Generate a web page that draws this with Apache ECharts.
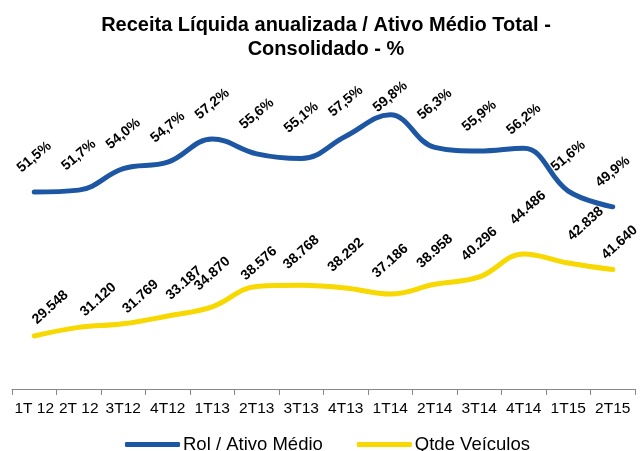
<!DOCTYPE html>
<html>
<head>
<meta charset="utf-8">
<script src="https://cdn.jsdelivr.net/npm/echarts@6/dist/echarts.min.js"></script>
<style>html,body{margin:0;padding:0;background:#fff}#c{width:641px;height:451px}</style>
</head>
<body>
<div id="c"></div>
<script>
var categories = ['1T 12','2T 12','3T12','4T12','1T13','2T13','3T13','4T13','1T14','2T14','3T14','4T14','1T15','2T15'];
var rolAtivo = [51.5, 51.7, 54.0, 54.7, 57.2, 55.6, 55.1, 57.5, 59.8, 56.3, 55.9, 56.2, 51.6, 49.9];
var qtdeVeiculos = [29548, 31120, 31769, 33187, 34870, 38576, 38768, 38292, 37186, 38958, 40296, 44486, 42838, 41640];
var seriesNames = ['Rol / Ativo Médio', 'Qtde Veículos'];
var titleText = 'Receita Líquida anualizada / Ativo Médio Total -\nConsolidado - %';

// label placement tweaks (layout only; offsets are in the rotated label frame)
var blueLabelDist = { 5: 40, 6: 41, 8: 18, 9: 43, 11: 29 };
var yellowLabelOffset = { 0: [9, 14], 1: [11, 17], 2: [9, 16], 3: [12, 11], 5: [-5, 9], 11: [12, -7], 12: [17, 7], 13: [1, 9] };

var chart = echarts.init(document.getElementById('c'));
var font = 'Arial, "Liberation Sans", sans-serif';

var blueData = rolAtivo.map(function (v, i) {
  return blueLabelDist[i] !== undefined ? { value: v, label: { distance: blueLabelDist[i] } } : v;
});
var yellowData = qtdeVeiculos.map(function (v, i) {
  return yellowLabelOffset[i] ? { value: v, label: { offset: yellowLabelOffset[i] } } : v;
});

chart.setOption({
  animation: false,
  title: {
    text: titleText,
    left: 321, top: 8, textAlign: 'center',
    textStyle: { fontFamily: font, fontSize: 20, fontWeight: 'bold', color: '#000', lineHeight: 24 }
  },
  legend: {
    top: 430, left: 120,
    itemWidth: 55, itemHeight: 5, itemGap: 34,
    icon: 'roundRect',
    textStyle: { fontFamily: font, fontSize: 18.5, color: '#000', padding: [0, 0, 0, -2] },
    data: seriesNames
  },
  grid: { left: 12, right: 6, top: 60, bottom: 62 },
  xAxis: {
    type: 'category', data: categories, boundaryGap: true,
    axisLine: { lineStyle: { color: '#888' } },
    axisTick: { show: true, length: 6, lineStyle: { color: '#888' } },
    axisLabel: { fontFamily: font, fontSize: 15.5, color: '#000', margin: 12, interval: 0 }
  },
  yAxis: [
    { type: 'value', min: 30.3, max: 65.7, show: false, splitLine: { show: false } },
    { type: 'value', min: 19900, max: 79800, show: false, splitLine: { show: false } }
  ],
  series: [
    {
      name: seriesNames[0], type: 'line', yAxisIndex: 0, data: blueData,
      smooth: 0.4, symbol: 'circle', symbolSize: 0, showSymbol: true,
      lineStyle: { color: '#1D56A3', width: 5, cap: 'round' },
      itemStyle: { color: '#1D56A3' },
      label: {
        show: true, position: 'top', distance: 35, rotate: 40,
        align: 'center', verticalAlign: 'middle',
        fontFamily: font, fontSize: 14, fontWeight: 'bold', color: '#000',
        formatter: function (p) { return p.value.toFixed(1).replace('.', ',') + '%'; }
      }
    },
    {
      name: seriesNames[1], type: 'line', yAxisIndex: 1, data: yellowData,
      smooth: 0.4, symbol: 'circle', symbolSize: 0, showSymbol: true,
      lineStyle: { color: '#F7D800', width: 5, cap: 'round' },
      itemStyle: { color: '#F7D800' },
      label: {
        show: true, position: 'top', distance: 33, rotate: 42,
        align: 'center', verticalAlign: 'middle',
        fontFamily: font, fontSize: 14, fontWeight: 'bold', color: '#000',
        formatter: function (p) { return p.value.toLocaleString('de-DE'); }
      }
    }
  ]
});
</script>
</body>
</html>
